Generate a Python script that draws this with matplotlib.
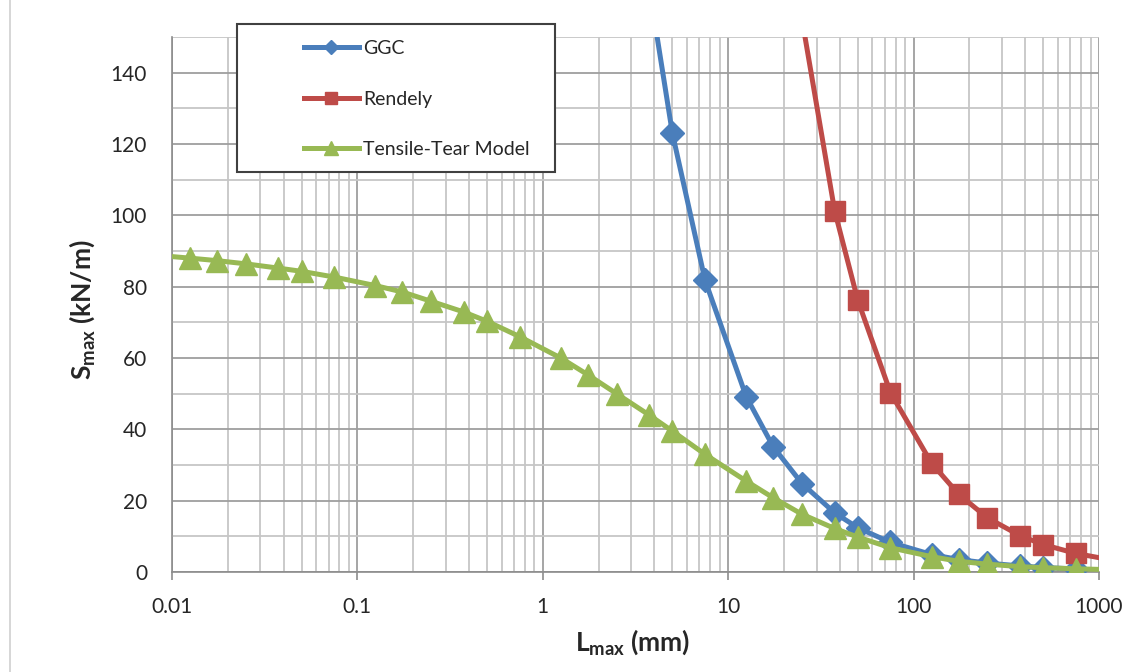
import matplotlib
matplotlib.use("Agg")
import matplotlib.pyplot as plt
from matplotlib.ticker import FixedLocator, NullFormatter
from matplotlib.lines import Line2D
from matplotlib.patches import Rectangle

plt.rcParams['font.family'] = ['Lato', 'DejaVu Sans']
plt.rcParams['mathtext.fontset'] = 'custom'
plt.rcParams['mathtext.rm'] = 'Lato'
plt.rcParams['mathtext.bf'] = 'Lato:bold'
plt.rcParams['mathtext.it'] = 'Lato:italic'

# ---------------- data ----------------
ggc_x = [3.75, 5, 7.5, 12.5, 17.5, 25, 37.5, 50, 75, 125, 175, 250, 375, 500, 750]
ggc_y = [164, 123, 81.8, 49.2, 35.1, 24.8, 16.6, 12.4, 8.3, 4.9, 3.5, 2.5, 1.7, 1.25, 0.85]

rendely_x = [17.5, 25, 37.5, 50, 75, 125, 175, 250, 375, 500, 750, 1250]
rendely_y = [217, 155, 101.3, 76.2, 50.3, 30.5, 21.8, 15.2, 10.2, 7.7, 5.2, 3.1]

tt_x = [0.0075, 0.0125, 0.0175, 0.025, 0.0375, 0.05, 0.075, 0.125, 0.175, 0.25,
        0.375, 0.5, 0.75, 1.25, 1.75, 2.5, 3.75, 5, 7.5, 12.5, 17.5, 25, 37.5,
        50, 75, 125, 175, 250, 375, 500, 750, 1250]
tt_y = [89.0, 88.0, 87.3, 86.4, 85.2, 84.3, 82.7, 80.3, 78.5, 75.9, 72.9, 70.3,
        66.0, 60.0, 55.3, 50.0, 44.0, 39.5, 33.0, 25.5, 20.8, 16.2, 12.2, 9.8,
        6.8, 4.3, 3.0, 2.2, 1.5, 1.2, 0.9, 0.6]

series_names = ["GGC", "Rendely", "Tensile-Tear Model"]
x_ticks = [0.01, 0.1, 1, 10, 100, 1000]
x_ticklabels = ["0.01", "0.1", "1", "10", "100", "1000"]
y_ticks = [0, 20, 40, 60, 80, 100, 120, 140]

# ---------------- figure ----------------
W, H = 1131, 672
fig = plt.figure(figsize=(W / 100, H / 100), dpi=100)
L, R, T, B = 172, 1099, 37, 572
ax = fig.add_axes([L / W, 1 - B / H, (R - L) / W, (B - T) / H])

blue = '#4A7EBB'
red = '#BE4B48'
green = '#98B954'

ax.plot(ggc_x, ggc_y, color=blue, lw=3.6, marker='D', ms=12, mew=1,
        mec=blue, mfc=blue, label=series_names[0], zorder=3)
ax.plot(rendely_x, rendely_y, color=red, lw=3.6, marker='s', ms=14.5, mew=1,
        mec=red, mfc=red, label=series_names[1], zorder=4)
ax.plot(tt_x, tt_y, color=green, lw=3.6, marker='^', ms=16.5, mew=1,
        mec=green, mfc=green, label=series_names[2], zorder=5)

ax.set_xscale('log')
ax.set_xlim(0.01, 1000)
ax.set_ylim(0, 150)

ax.set_xticks(x_ticks)
ax.set_xticklabels(x_ticklabels)
minor_x = [m * 10.0 ** e for e in range(-2, 3) for m in range(2, 10)]
ax.xaxis.set_minor_locator(FixedLocator(minor_x))
ax.xaxis.set_minor_formatter(NullFormatter())
ax.set_yticks(y_ticks)
ax.yaxis.set_minor_locator(FixedLocator([10, 30, 50, 70, 90, 110, 130, 150]))

ax.grid(True, which='major', color='#9E9E9E', lw=1.3, zorder=0)
ax.grid(True, which='minor', color='#C6C6C6', lw=1.3, zorder=0)
ax.set_axisbelow(True)

for s in ['top', 'right']:
    ax.spines[s].set_visible(False)
ax.spines['left'].set_color('#8C8C8C')
ax.spines['bottom'].set_color('#8C8C8C')
ax.spines['left'].set_linewidth(1.2)
ax.spines['bottom'].set_linewidth(1.2)

ax.tick_params(axis='x', which='major', direction='out', length=6, width=1.2,
               color='#8C8C8C', pad=12, labelsize=15, labelcolor='#262626')
ax.tick_params(axis='x', which='minor', length=0)
ax.tick_params(axis='y', which='both', length=0, pad=18, labelsize=15,
               labelcolor='#262626')

ax.set_xlabel(r'$\mathbf{L_{max}}$ (mm)', fontsize=19, fontweight='bold',
              color='#262626', va='center', ha='center')
ax.xaxis.set_label_coords((633 - L) / (R - L), (B - 642) / (B - T))
ax.set_ylabel(r'$\mathbf{S_{max}}$ (kN/m)', fontsize=19, fontweight='bold',
              color='#262626', va='center', ha='center')
ax.yaxis.set_label_coords((82 - L) / (R - L), (B - 310) / (B - T))

# legend frame + legend
lx0, ly0, lx1, ly1 = 237, 24, 555, 172
frame = Rectangle((lx0 / W, 1 - ly1 / H), (lx1 - lx0) / W, (ly1 - ly0) / H,
                  transform=fig.transFigure, facecolor='white',
                  edgecolor='#404040', lw=1.5, zorder=10, clip_on=False)
ax.add_patch(frame)
leg = ax.legend(loc='center left', bbox_to_anchor=(294 / W, 1 - 99 / H),
                bbox_transform=fig.transFigure, frameon=False, fontsize=14,
                handlelength=2.85, handletextpad=0.2, labelspacing=1.72,
                borderpad=0, markerscale=0.62, numpoints=1)
leg.set_zorder(11)
for t in leg.get_texts():
    t.set_color('#262626')

# outer chart border on the left
fig.add_artist(Line2D([10 / W, 10 / W], [0, 1], transform=fig.transFigure,
                      color='#D0D0D0', lw=1.2))

fig.savefig('out.png', dpi=100)
